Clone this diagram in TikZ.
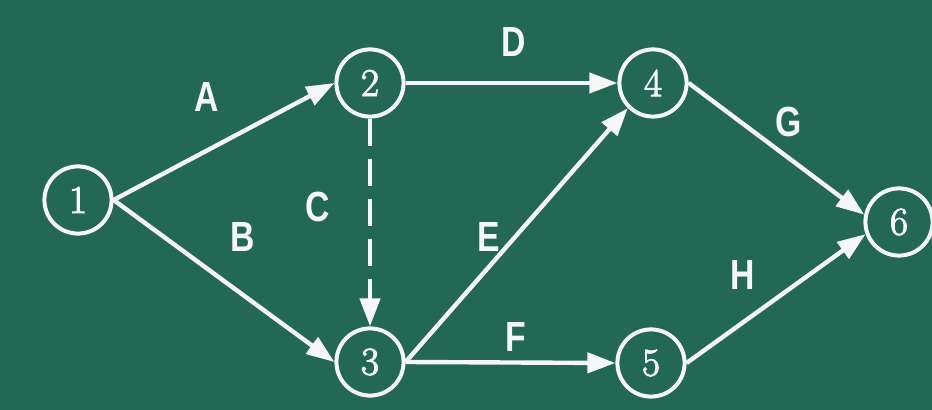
\documentclass[tikz,border=0pt]{standalone}
\usepackage{fontspec}
\usetikzlibrary{arrows.meta}
\newfontfamily\letterfont[FakeStretch=0.8]{Liberation Sans}
\newfontfamily\digitfont[FakeBold=2.5]{Latin Modern Roman}
\definecolor{board}{RGB}{35,103,85}
\definecolor{chalk}{RGB}{244,247,245}
\tikzset{
  event/.style={circle,draw=chalk,line width=0.1cm,minimum size=1.68cm,inner sep=0pt,
    text=chalk,font=\digitfont\fontsize{28}{30}\selectfont},
  activity/.style={text=chalk,font=\letterfont\bfseries\fontsize{30}{32}\selectfont},
  dummy/.style={dash pattern=on 0.68cm off 0.32cm}
}
\begin{document}
\begin{tikzpicture}
      \fill[board] (0,0) rectangle (23.3,10.25);
      \useasboundingbox (0,0) rectangle (23.3,10.25);
      \draw
        (1.95,5.25) node[event] (1){1}
        (9.25,8.175) node[event] (2){2}
        (9.25,1.2) node[event] (3){3}
        (16.325,8.175) node[event] (4){4}
        (16.275,1.175) node[event] (5){5}
        (22.475,4.7) node[event] (6){6};
      \draw
        (5.175,7.825) node[activity] (A){A}
        (6.075,4.325) node[activity] (B){B}
        (7.95,5.075) node[activity] (C){C}
        (12.85,9.2) node[activity] (D){D}
        (12.225,4.325) node[activity] (E){E}
        (12.9,1.825) node[activity] (F){F}
        (19.725,7.2) node[activity] (G){G}
        (18.575,3.375) node[activity] (H){H};
      \begin{scope}[draw=chalk,line width=0.11cm,-{Triangle[length=0.7cm,width=0.5cm]}]
        \draw (1.east) to (2.west);
        \draw (1.east) to (3.west);
        \draw[dummy] (2.south) to (3.north);
        \draw (2.east) to (4.west);
        \draw (3.east) to (4.225);
        \draw (3.east) to (5.west);
        \draw (4.east) to (6.168);
        \draw (5.east) to (6.200);
      \end{scope}
    \end{tikzpicture}
\end{document}
